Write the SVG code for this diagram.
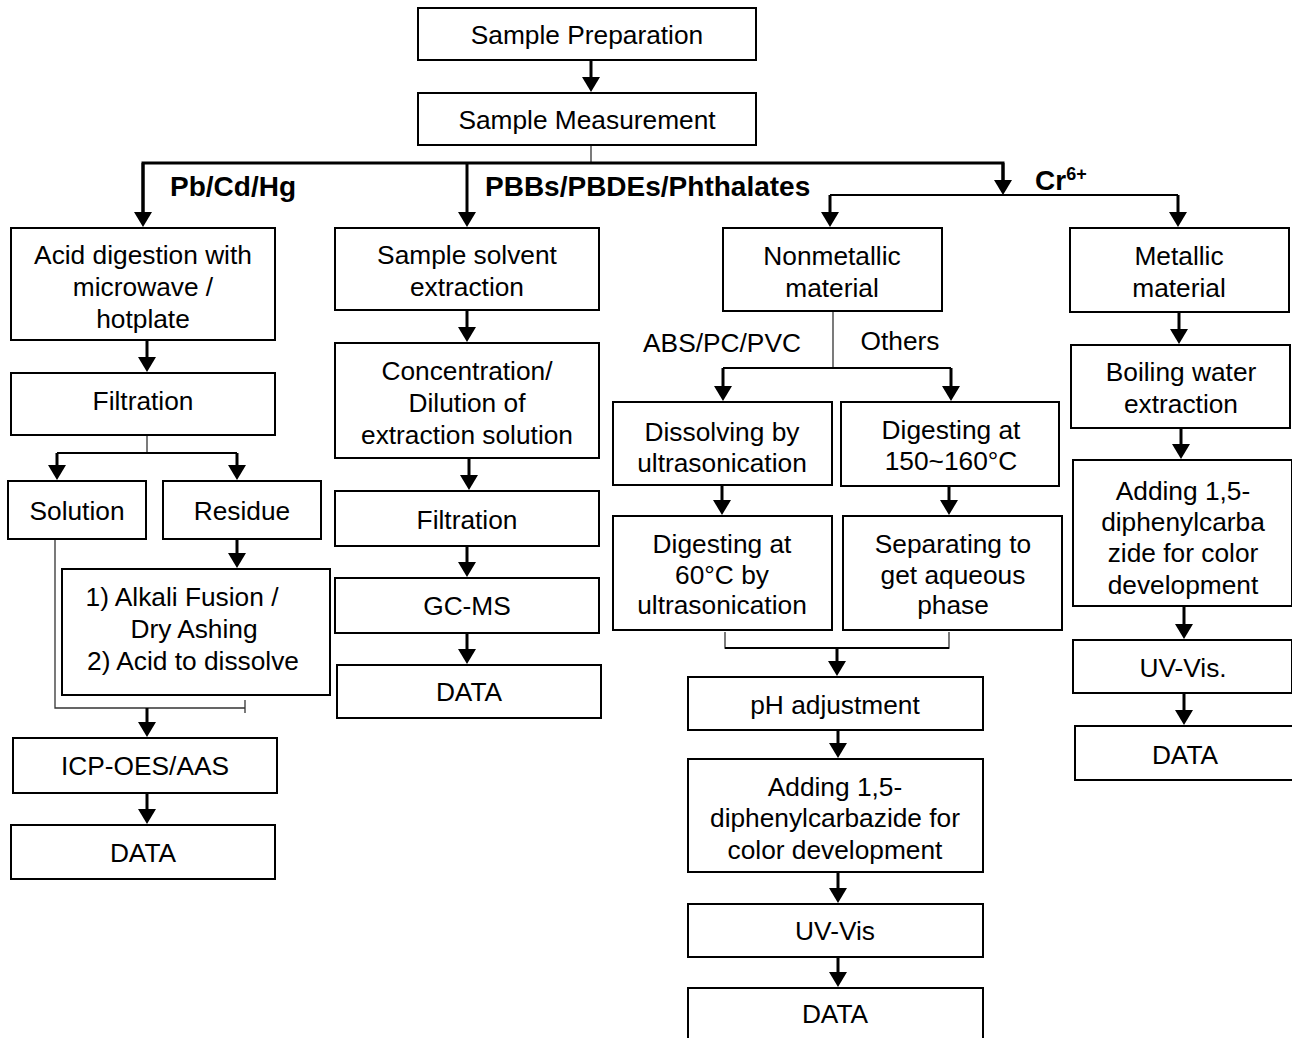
<svg xmlns="http://www.w3.org/2000/svg" width="1292" height="1038" viewBox="0 0 1292 1038">
<style>
rect.b{fill:#fff;stroke:#000;stroke-width:2}
text{font-family:"Liberation Sans",Arial,sans-serif;font-size:26.3px;fill:#000;text-anchor:middle}
text.lb{font-weight:bold;font-size:28px;text-anchor:start}
text.ls{text-anchor:middle}
.ar{stroke:#000;stroke-width:3;fill:none;marker-end:url(#ah)}
.tk{stroke:#000;stroke-width:3;fill:none}
.md{stroke:#000;stroke-width:2;fill:none}
.th{stroke:#333;stroke-width:1.3;fill:none}
</style>
<defs>
<marker id="ah" markerUnits="userSpaceOnUse" viewBox="0 0 15 18" markerWidth="15" markerHeight="18" refX="6" refY="9" orient="auto">
<path d="M0,0 L15,9 L0,18 z" fill="#000"/>
</marker>
</defs>
<rect width="1292" height="1038" fill="#fff"/>
<g id="connectors">
<line class="ar" x1="591" y1="60" x2="591" y2="83"/>
<line class="th" x1="591" y1="145" x2="591" y2="163"/>
<polyline class="tk" points="143,218 143,163 1003,163 1003,186"/>
<line class="ar" x1="143" y1="163" x2="143" y2="218"/>
<line class="ar" x1="467" y1="163" x2="467" y2="218"/>
<line class="ar" x1="1003" y1="163" x2="1003" y2="186"/>
<line class="md" x1="830" y1="195" x2="1178" y2="195"/>
<line class="ar" x1="830" y1="195" x2="830" y2="218"/>
<line class="ar" x1="1178" y1="195" x2="1178" y2="218"/>
<line class="ar" x1="147" y1="340" x2="147" y2="363"/>
<line class="th" x1="147" y1="435" x2="147" y2="453"/>
<line class="md" x1="57" y1="453" x2="237" y2="453"/>
<line class="ar" x1="57" y1="453" x2="57" y2="471"/>
<line class="ar" x1="237" y1="453" x2="237" y2="471"/>
<line class="ar" x1="237" y1="539" x2="237" y2="559"/>
<polyline class="th" points="55,539 55,708 245,708"/>
<line class="th" x1="245" y1="700" x2="245" y2="713"/>
<line class="ar" x1="147" y1="708" x2="147" y2="728"/>
<line class="ar" x1="147" y1="793" x2="147" y2="815"/>
<line class="ar" x1="467" y1="310" x2="467" y2="333"/>
<line class="ar" x1="469" y1="458" x2="469" y2="481"/>
<line class="ar" x1="467" y1="546" x2="467" y2="568"/>
<line class="ar" x1="467" y1="633" x2="467" y2="655"/>
<line class="th" x1="833" y1="311" x2="833" y2="368"/>
<line class="md" x1="723" y1="368" x2="951" y2="368"/>
<line class="ar" x1="723" y1="368" x2="723" y2="392"/>
<line class="ar" x1="951" y1="368" x2="951" y2="392"/>
<line class="ar" x1="722" y1="485" x2="722" y2="506"/>
<line class="ar" x1="949" y1="486" x2="949" y2="506"/>
<polyline class="th" points="725,632 725,648 949,648 949,632"/>
<line class="md" x1="725" y1="648" x2="949" y2="648"/>
<line class="ar" x1="837" y1="648" x2="837" y2="667"/>
<line class="ar" x1="838" y1="730" x2="838" y2="749"/>
<line class="ar" x1="838" y1="872" x2="838" y2="894"/>
<line class="ar" x1="838" y1="957" x2="838" y2="978"/>
<line class="ar" x1="1179" y1="312" x2="1179" y2="335"/>
<line class="ar" x1="1181" y1="428" x2="1181" y2="450"/>
<line class="ar" x1="1184" y1="606" x2="1184" y2="630"/>
<line class="ar" x1="1184" y1="693" x2="1184" y2="716"/>
</g>
<g id="labels">
<text class="lb" x="170" y="196">Pb/Cd/Hg</text>
<text class="lb" x="485" y="196">PBBs/PBDEs/Phthalates</text>
<text class="lb" x="1035" y="190">Cr<tspan font-size="18" dy="-10">6+</tspan></text>
<text class="ls" x="722" y="352">ABS/PC/PVC</text>
<text class="ls" x="900" y="350">Others</text>
</g>
<g id="prep"><rect class="b" x="418" y="8" width="338" height="52"/><text x="587" y="44">Sample Preparation</text></g>
<g id="meas"><rect class="b" x="418" y="93" width="338" height="52"/><text x="587" y="129">Sample Measurement</text></g>
<g id="acid"><rect class="b" x="11" y="228" width="264" height="112"/><text x="143" y="264">Acid digestion with</text><text x="143" y="296">microwave /</text><text x="143" y="328">hotplate</text></g>
<g id="filt1"><rect class="b" x="11" y="373" width="264" height="62"/><text x="143" y="410">Filtration</text></g>
<g id="solution"><rect class="b" x="8" y="481" width="138" height="58"/><text x="77" y="520">Solution</text></g>
<g id="residue"><rect class="b" x="163" y="481" width="158" height="58"/><text x="242" y="520">Residue</text></g>
<g id="alkali"><rect class="b" x="62" y="569" width="268" height="126"/><text x="182" y="606">1) Alkali Fusion /</text><text x="194" y="638">Dry Ashing</text><text x="193" y="670">2) Acid to dissolve</text></g>
<g id="icp"><rect class="b" x="13" y="738" width="264" height="55"/><text x="145" y="775">ICP-OES/AAS</text></g>
<g id="data1"><rect class="b" x="11" y="825" width="264" height="54"/><text x="143" y="862">DATA</text></g>
<g id="sse"><rect class="b" x="335" y="228" width="264" height="82"/><text x="467" y="264">Sample solvent</text><text x="467" y="296">extraction</text></g>
<g id="conc"><rect class="b" x="335" y="343" width="264" height="115"/><text x="467" y="380">Concentration/</text><text x="467" y="412">Dilution of</text><text x="467" y="444">extraction solution</text></g>
<g id="filt2"><rect class="b" x="335" y="491" width="264" height="55"/><text x="467" y="529">Filtration</text></g>
<g id="gcms"><rect class="b" x="335" y="578" width="264" height="55"/><text x="467" y="615">GC-MS</text></g>
<g id="data2"><rect class="b" x="337" y="665" width="264" height="53"/><text x="469" y="701">DATA</text></g>
<g id="nonmet"><rect class="b" x="723" y="228" width="219" height="83"/><text x="832" y="265">Nonmetallic</text><text x="832" y="297">material</text></g>
<g id="met"><rect class="b" x="1070" y="228" width="219" height="84"/><text x="1179" y="265">Metallic</text><text x="1179" y="297">material</text></g>
<g id="dissolve"><rect class="b" x="613" y="402" width="219" height="83"/><text x="722" y="441">Dissolving by</text><text x="722" y="472">ultrasonication</text></g>
<g id="dig150"><rect class="b" x="841" y="402" width="218" height="84"/><text x="951" y="439">Digesting at</text><text x="951" y="470">150~160°C</text></g>
<g id="dig60"><rect class="b" x="613" y="516" width="219" height="114"/><text x="722" y="553">Digesting at</text><text x="722" y="584">60°C by</text><text x="722" y="614">ultrasonication</text></g>
<g id="sep"><rect class="b" x="843" y="516" width="219" height="114"/><text x="953" y="553">Separating to</text><text x="953" y="584">get aqueous</text><text x="953" y="614">phase</text></g>
<g id="ph"><rect class="b" x="688" y="677" width="295" height="53"/><text x="835" y="714">pH adjustment</text></g>
<g id="adding"><rect class="b" x="688" y="759" width="295" height="113"/><text x="835" y="796">Adding 1,5-</text><text x="835" y="827">diphenylcarbazide for</text><text x="835" y="859">color development</text></g>
<g id="uvvis"><rect class="b" x="688" y="904" width="295" height="53"/><text x="835" y="940">UV-Vis</text></g>
<g id="data3"><rect class="b" x="688" y="988" width="295" height="60"/><text x="835" y="1023">DATA</text></g>
<g id="boil"><rect class="b" x="1071" y="345" width="219" height="83"/><text x="1181" y="381">Boiling water</text><text x="1181" y="413">extraction</text></g>
<g id="adding2"><rect class="b" x="1073" y="460" width="219" height="146"/><text x="1183" y="500">Adding 1,5-</text><text x="1183" y="531">diphenylcarba</text><text x="1183" y="562">zide for color</text><text x="1183" y="594">development</text></g>
<g id="uvvis2"><rect class="b" x="1073" y="640" width="219" height="53"/><text x="1183" y="677">UV-Vis.</text></g>
<g id="data4"><rect class="b" x="1075" y="726" width="219" height="54"/><text x="1185" y="764">DATA</text></g>
</svg>
